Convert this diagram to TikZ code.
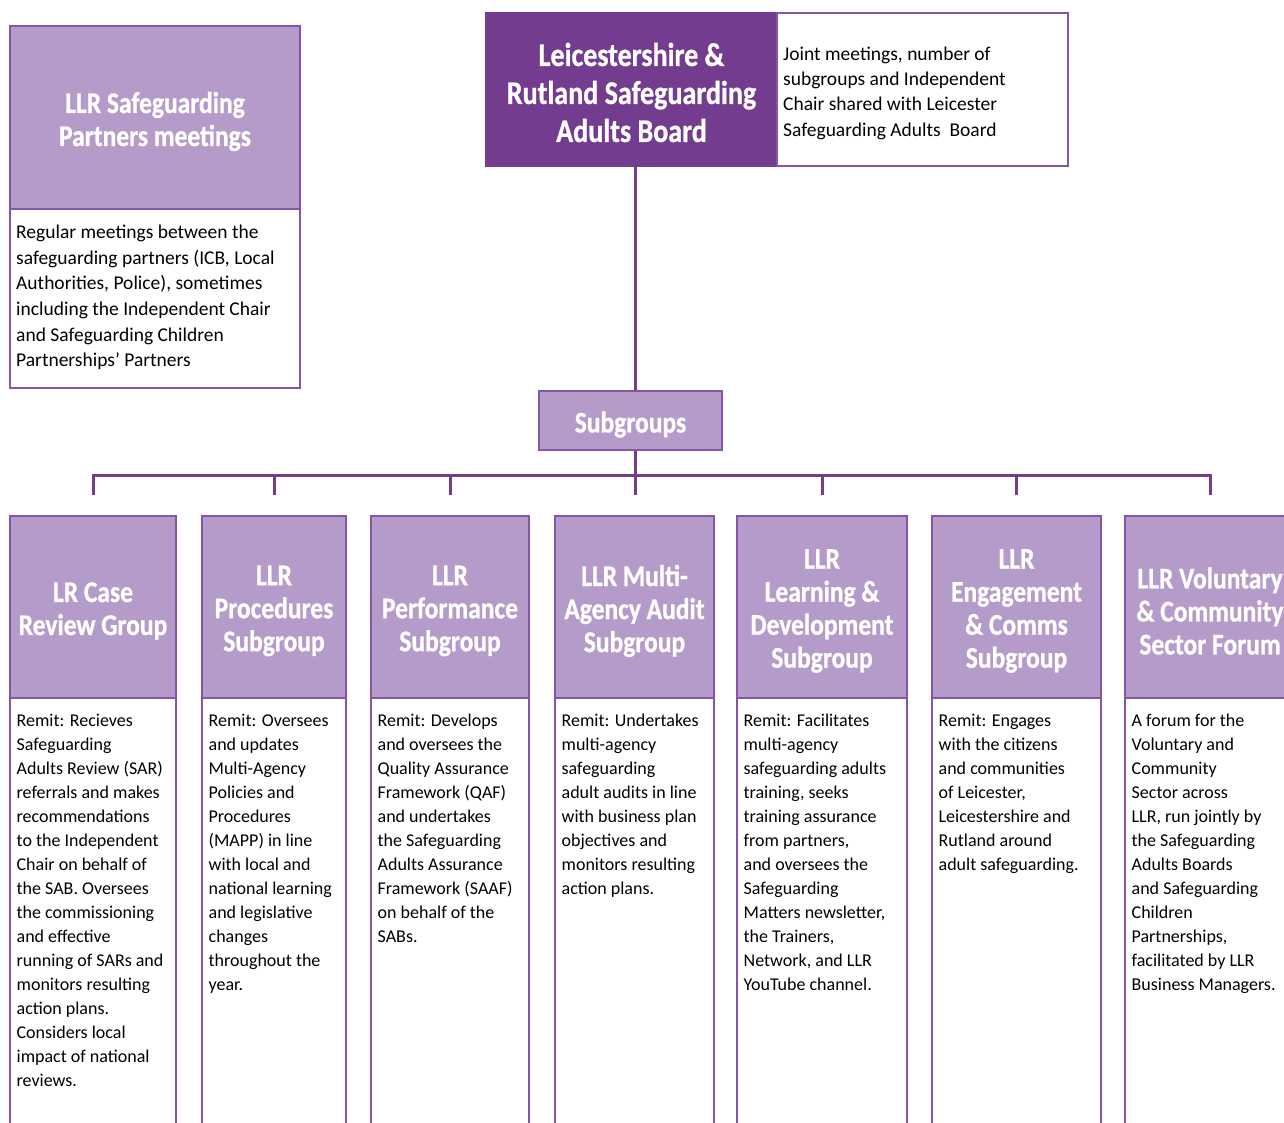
\documentclass[tikz,border=0pt]{standalone}
\usepackage{fontspec}
\setmainfont{Carlito}
\newfontfamily\hfont{Carlito}[FakeStretch=0.85, BoldFeatures={FakeBold=0.8}]
\usetikzlibrary{calc}
\definecolor{dark}{HTML}{743C8E}
\definecolor{light}{HTML}{B59BCA}
\definecolor{edge}{HTML}{8655A8}
\begin{document}
\begin{tikzpicture}[x=1pt,y=-1pt,
  hdr/.style={draw=edge, fill=light, line width=1.3pt, inner sep=0pt},
  hdrtext/.style={inner sep=0pt, align=center, text=white,
    font=\hfont\bfseries\fontsize{30}{33}\selectfont},
  bodybox/.style={draw=edge, fill=white, line width=1.1pt, inner sep=0pt},
  coltext/.style={anchor=north west, inner sep=0pt, align=left, text=black,
    font=\fontsize{18}{24}\selectfont},
  conn/.style={draw=dark, line width=3pt, line join=miter}]
\useasboundingbox (0,0) rectangle (1284,1122);
\clip (0,0) rectangle (1284,1122);

% Partners meetings
\node[hdr, minimum width=290pt, minimum height=183pt] (ph) at (155,117.5) {};
\node[hdrtext] (pht) at ($(ph.center)+(0,4)$) {LLR Safeguarding\\Partners meetings};
\node[bodybox, minimum width=290pt, minimum height=179pt] (pb) at (155,298.5) {};
\node[coltext, font=\fontsize{19.5}{25.6}\selectfont] (pt) at (16,225)
  {Regular meetings between the\\safeguarding partners (ICB, Local\\Authorities, Police), sometimes\\including the Independent Chair\\and Safeguarding Children\\Partnerships’ Partners};

% Board
\node[hdr, fill=dark, draw=dark, minimum width=291pt, minimum height=153pt] (board) at (631.5,89.5) {};
\node[hdrtext, font=\hfont\bfseries\fontsize{33}{38}\selectfont] (boardt) at ($(board.center)+(0,3)$)
  {Leicestershire \&\\Rutland Safeguarding\\Adults Board};
\node[bodybox, minimum width=291pt, minimum height=153pt] (boardnote) at (922.5,89.5) {};
\node[anchor=west, inner sep=0pt, align=left, font=\fontsize{19.5}{25.3}\selectfont] (boardtext) at (783,93)
  {Joint meetings, number of\\subgroups and Independent\\Chair shared with Leicester\\Safeguarding Adults\ \ Board};

% Subgroups
\node[hdr, minimum width=183pt, minimum height=59pt] (sub) at (630.5,420.5) {};
\node[hdrtext] (subt) at ($(sub.center)+(0,4)$) {Subgroups};

% Columns
\foreach \i/\xa/\xb/\title in {
  1/10/176/{LR Case\\Review Group},
  2/202/346/{LLR\\Procedures\\Subgroup},
  3/371/529/{LLR\\Performance\\Subgroup},
  4/555/714/{LLR Multi-\\Agency Audit\\Subgroup},
  5/737/907/{LLR\\Learning \&\\Development\\Subgroup},
  6/932/1101/{LLR\\Engagement\\\& Comms\\Subgroup},
  7/1125/1295/{LLR Voluntary\\\& Community\\Sector Forum}}{
  \node[hdr, minimum width={\xb-\xa}, minimum height=182pt] (h\i) at ({(\xa+\xb)/2},607) {};
  \node[hdrtext] (ht\i) at ($(h\i.center)+(0,4)$) {\title};
  \node[bodybox, minimum width={\xb-\xa}, minimum height=440pt] (b\i) at ({(\xa+\xb)/2},918) {};
}

\node[coltext] (t1) at ($(b1.north west)+(7,16)$)
  {Remit: Recieves\\Safeguarding\\Adults Review (SAR)\\referrals and makes\\recommendations\\to the Independent\\Chair on behalf of\\the SAB. Oversees\\the commissioning\\and effective\\running of SARs and\\monitors resulting\\action plans.\\Considers local\\impact of national\\reviews.};
\node[coltext] (t2) at ($(b2.north west)+(7,16)$)
  {Remit: Oversees\\and updates\\Multi-Agency\\Policies and\\Procedures\\(MAPP) in line\\with local and\\national learning\\and legislative\\changes\\throughout the\\year.};
\node[coltext] (t3) at ($(b3.north west)+(7,16)$)
  {Remit: Develops\\and oversees the\\Quality Assurance\\Framework (QAF)\\and undertakes\\the Safeguarding\\Adults Assurance\\Framework (SAAF)\\on behalf of the\\SABs.};
\node[coltext] (t4) at ($(b4.north west)+(7,16)$)
  {Remit: Undertakes\\multi-agency\\safeguarding\\adult audits in line\\with business plan\\objectives and\\monitors resulting\\action plans.};
\node[coltext] (t5) at ($(b5.north west)+(7,16)$)
  {Remit: Facilitates\\multi-agency\\safeguarding adults\\training, seeks\\training assurance\\from partners,\\and oversees the\\Safeguarding\\Matters newsletter,\\the Trainers,\\Network, and LLR\\YouTube channel.};
\node[coltext] (t6) at ($(b6.north west)+(7,16)$)
  {Remit: Engages\\with the citizens\\and communities\\of Leicester,\\Leicestershire and\\Rutland around\\adult safeguarding.};
\node[coltext] (t7) at ($(b7.north west)+(7,16)$)
  {A forum for the\\Voluntary and\\Community\\Sector across\\LLR, run jointly by\\the Safeguarding\\Adults Boards\\and Safeguarding\\Children\\Partnerships,\\facilitated by LLR\\Business Managers.};

% Connectors
\coordinate (bus) at (0,475);
\coordinate (drop) at (0,495);
\coordinate (trunk) at (635,0);
\draw[conn] (trunk |- board.south) -- (trunk |- sub.north);
\draw[conn] (trunk |- sub.south) -- (trunk |- bus);
\draw[conn] (h1.north |- drop) -- (h1.north |- bus) -- (h7.north |- bus) -- (h7.north |- drop);
\foreach \i in {2,3,5,6}{
  \draw[conn] (h\i.north |- bus) -- (h\i.north |- drop);
}
\draw[conn] (trunk |- bus) -- (trunk |- drop);
\end{tikzpicture}
\end{document}
